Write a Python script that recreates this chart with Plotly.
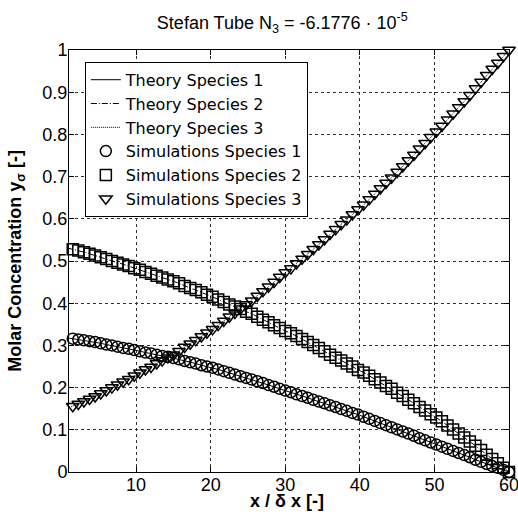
import plotly.graph_objects as go

# x / delta x positions of the simulation cells
x_vals = [0.75, 1.5, 2.25, 3, 3.75, 4.5, 5.25, 6, 6.75, 7.5, 8.25, 9, 9.75, 10.5, 11.25, 12,
          12.75, 13.5, 14.25, 15, 15.75, 16.5, 17.25, 18, 18.75, 19.5, 20.25, 21, 21.75, 22.5,
          23.25, 24, 24.75, 25.5, 26.25, 27, 27.75, 28.5, 29.25, 30, 30.75, 31.5, 32.25, 33,
          33.75, 34.5, 35.25, 36, 36.75, 37.5, 38.25, 39, 39.75, 40.5, 41.25, 42, 42.75, 43.5,
          44.25, 45, 45.75, 46.5, 47.25, 48, 48.75, 49.5, 50.25, 51, 51.75, 52.5, 53.25, 54,
          54.75, 55.5, 56.25, 57, 57.75, 58.5, 59.25, 60]

species1 = [0.318, 0.316, 0.314, 0.312, 0.310, 0.308, 0.305, 0.302, 0.300, 0.297, 0.294, 0.292,
            0.289, 0.286, 0.283, 0.281, 0.278, 0.275, 0.273, 0.270, 0.267, 0.263, 0.260, 0.257,
            0.253, 0.250, 0.247, 0.243, 0.239, 0.235, 0.231, 0.227, 0.223, 0.219, 0.215, 0.211,
            0.206, 0.202, 0.197, 0.193, 0.189, 0.184, 0.180, 0.176, 0.171, 0.167, 0.163, 0.158,
            0.154, 0.149, 0.145, 0.140, 0.136, 0.131, 0.126, 0.121, 0.116, 0.111, 0.106, 0.101,
            0.096, 0.091, 0.086, 0.080, 0.075, 0.070, 0.065, 0.060, 0.055, 0.050, 0.045, 0.040,
            0.035, 0.029, 0.024, 0.019, 0.014, 0.010, 0.005, 0.000]

species2 = [0.531, 0.528, 0.525, 0.521, 0.517, 0.513, 0.509, 0.505, 0.500, 0.496, 0.492, 0.488,
            0.483, 0.479, 0.474, 0.470, 0.465, 0.461, 0.456, 0.452, 0.447, 0.441, 0.436, 0.431,
            0.426, 0.420, 0.415, 0.409, 0.403, 0.397, 0.392, 0.386, 0.380, 0.375, 0.368, 0.361,
            0.355, 0.348, 0.341, 0.334, 0.329, 0.322, 0.315, 0.308, 0.301, 0.294, 0.286, 0.278,
            0.271, 0.264, 0.257, 0.250, 0.242, 0.236, 0.228, 0.220, 0.212, 0.204, 0.197, 0.188,
            0.180, 0.171, 0.163, 0.154, 0.146, 0.137, 0.129, 0.120, 0.110, 0.101, 0.091, 0.082,
            0.072, 0.062, 0.052, 0.041, 0.031, 0.021, 0.010, 0.000]

species3 = [0.151, 0.156, 0.161, 0.167, 0.173, 0.179, 0.186, 0.193, 0.200, 0.207, 0.214, 0.220,
            0.228, 0.235, 0.243, 0.249, 0.257, 0.264, 0.271, 0.278, 0.286, 0.296, 0.304, 0.312,
            0.321, 0.330, 0.338, 0.348, 0.358, 0.368, 0.377, 0.387, 0.397, 0.406, 0.417, 0.428,
            0.439, 0.450, 0.462, 0.473, 0.482, 0.494, 0.505, 0.516, 0.528, 0.539, 0.551, 0.564,
            0.575, 0.587, 0.598, 0.610, 0.622, 0.633, 0.646, 0.659, 0.672, 0.685, 0.697, 0.711,
            0.724, 0.738, 0.751, 0.766, 0.779, 0.793, 0.806, 0.820, 0.835, 0.849, 0.864, 0.878,
            0.893, 0.909, 0.924, 0.940, 0.955, 0.969, 0.985, 1.000]

x_ticks = [10, 20, 30, 40, 50, 60]
y_ticks = [0, 0.1, 0.2, 0.3, 0.4, 0.5, 0.6, 0.7, 0.8, 0.9, 1]
y_tick_text = ["0", "0.1", "0.2", "0.3", "0.4", "0.5", "0.6", "0.7", "0.8", "0.9", "1"]

FONT = "Liberation Sans, Arial, sans-serif"

fig = go.Figure()

line_specs = [("Theory Species 1", species1, "solid"),
              ("Theory Species 2", species2, "6px,2px,1px,2px"),
              ("Theory Species 3", species3, "1px,1px")]
for name, ys, dash in line_specs:
    fig.add_trace(go.Scatter(x=x_vals, y=ys, mode="lines", name=name,
                             line=dict(color="black", width=1, dash=dash)))

marker_specs = [("Simulations Species 1", species1, "circle-open"),
                ("Simulations Species 2", species2, "square-open"),
                ("Simulations Species 3", species3, "triangle-down-open")]
for name, ys, sym in marker_specs:
    fig.add_trace(go.Scatter(x=x_vals, y=ys, mode="markers", name=name, cliponaxis=False,
                             marker=dict(symbol=sym, size=11, color="black",
                                         line=dict(color="black", width=1.5))))

axis_common = dict(showline=True, linecolor="black", linewidth=1, mirror="ticks",
                   ticks="inside", ticklen=5, tickcolor="black",
                   showgrid=True, gridcolor="#333333", gridwidth=1, griddash="3px,3px",
                   zeroline=False, ticklabeloverflow="allow",
                   tickfont=dict(family=FONT, size=18, color="black"))

fig.update_xaxes(range=[1, 60], tickvals=x_ticks, ticklabelstandoff=-4, **axis_common)
fig.update_yaxes(range=[0, 1], tickvals=y_ticks, ticktext=y_tick_text,
                 ticklabelstandoff=-3, **axis_common)

# axis titles placed as annotations in paper coordinates
fig.add_annotation(text="<b>x / δ x [-]</b>", xref="paper", yref="paper",
                   x=0.495, y=-0.068, xanchor="center", yanchor="middle",
                   showarrow=False, font=dict(family=FONT, size=18, color="black"))
fig.add_annotation(text="<b>Molar Concentration y<sub>σ</sub> [-]</b>", xref="paper",
                   yref="paper", x=-0.121, y=0.5, xanchor="center", yanchor="middle",
                   textangle=-90, showarrow=False,
                   font=dict(family=FONT, size=18, color="black"))

fig.update_layout(
    width=518, height=514,
    margin=dict(l=69, r=9, t=50, b=42, autoexpand=False),
    paper_bgcolor="white", plot_bgcolor="white",
    font=dict(family=FONT, size=18, color="black"),
    title=dict(text="Stefan Tube N<sub>3</sub> = -6.1776 · 10<sup>-5</sup>",
               x=0.545, xanchor="center", y=0.956, yanchor="middle",
               font=dict(family=FONT, size=18, color="black")),
    showlegend=True,
    legend=dict(x=0.036, y=0.972, xanchor="left", yanchor="top",
                bgcolor="white", bordercolor="black", borderwidth=1,
                font=dict(family="DejaVu Sans, sans-serif", size=16, color="black"),
                tracegroupgap=0, itemwidth=30),
)

fig.write_html("out.html", config={"displayModeBar": False},
               post_script="document.body.style.margin='0';document.body.style.padding='0';")
